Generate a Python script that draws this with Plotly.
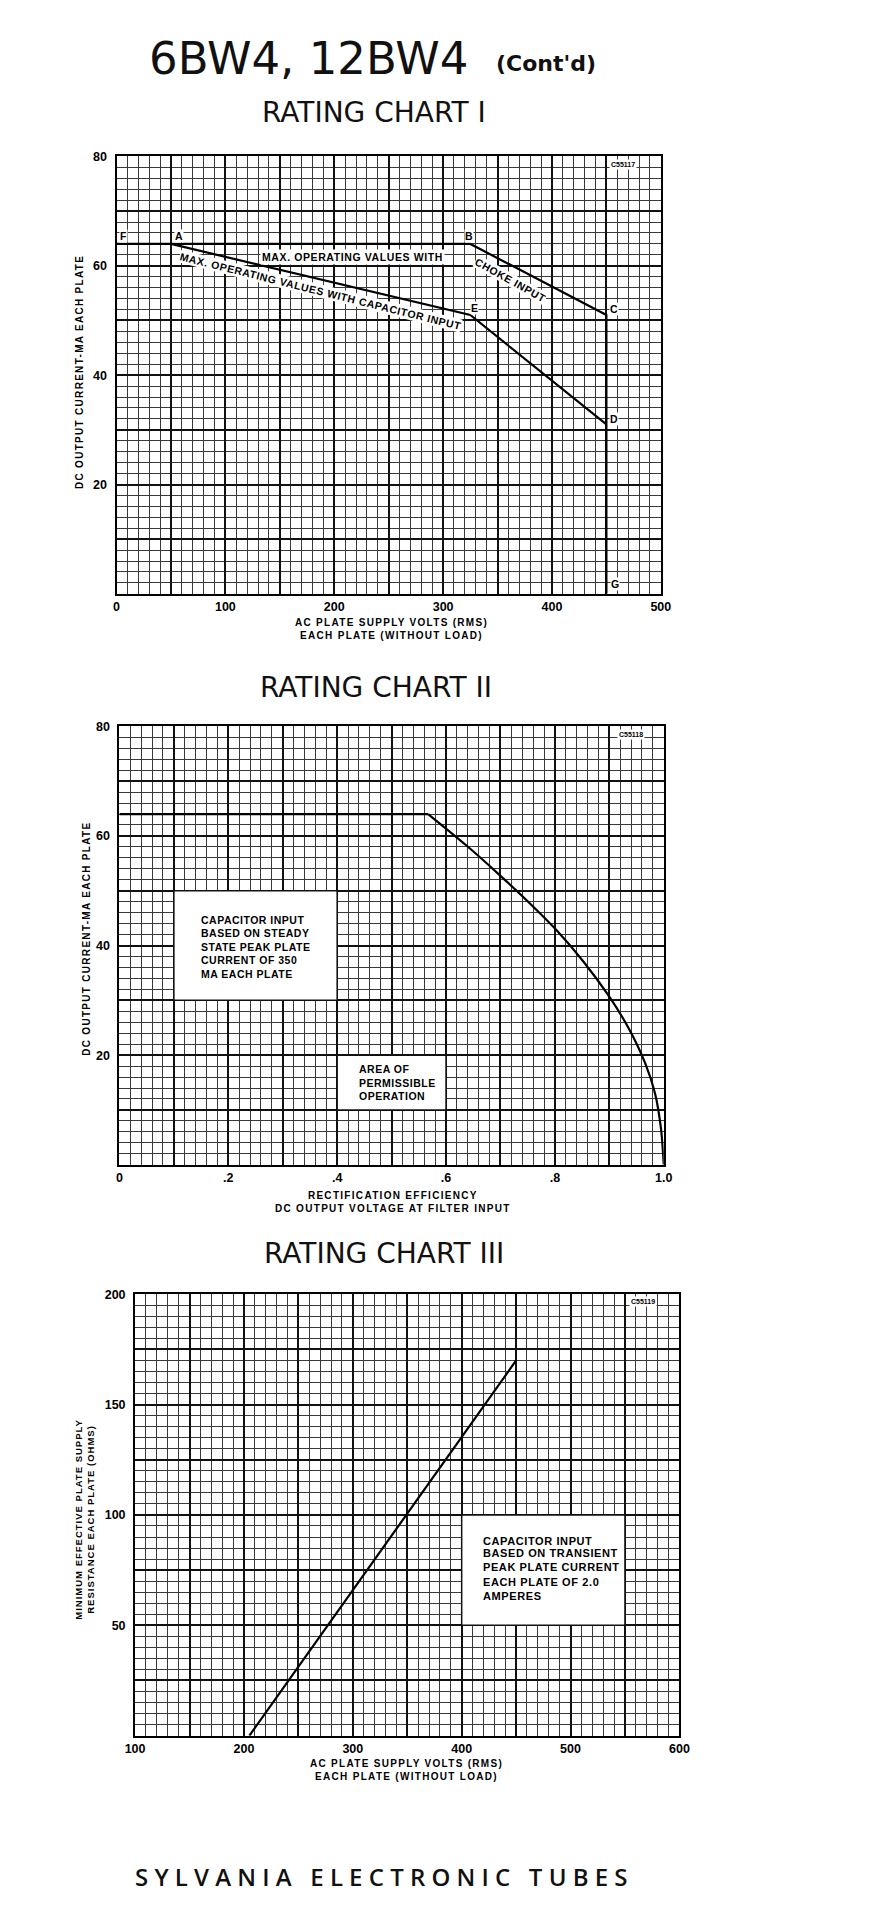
import plotly.graph_objects as go

W, H = 878, 1913

# ---------------- data ----------------
# Rating chart I  (AC plate supply volts vs DC output current, mA)
choke_volts = [0, 50, 325, 450, 450]          # F - A - B - C - G
choke_ma = [64, 64, 64, 51, 0]
cap_volts = [50, 325, 450]                     # A - E - D
cap_ma = [64, 51, 31]
point_names = ["F", "A", "B", "C", "D", "E", "G"]
point_volts = [0, 50, 325, 450, 450, 325, 450]
point_ma = [64, 64, 64, 51, 31, 51, 0]

c1_xticks = [0, 50, 100, 150, 200, 250, 300, 350, 400, 450, 500]
c1_xlabels = ["0", "", "100", "", "200", "", "300", "", "400", "", "500"]
c1_yticks = [0, 10, 20, 30, 40, 50, 60, 70, 80]
c1_ylabels = ["", "", "20", "", "40", "", "60", "", "80"]

# Rating chart II  (rectification efficiency vs DC output current, mA)
eff_flat = [0, 0.567]
ma_flat = [64, 64]
eff_curve = [0.567, 0.637, 0.697, 0.756, 0.804, 0.853, 0.899, 0.935, 0.966, 0.984, 0.995, 1.0]
ma_curve = [64, 58.3, 53.0, 47.5, 42.7, 37.0, 30.8, 25.0, 18.5, 13.0, 6.5, 0]

c2_xticks = [0, 0.1, 0.2, 0.3, 0.4, 0.5, 0.6, 0.7, 0.8, 0.9, 1.0]
c2_xlabels = ["0", "", ".2", "", ".4", "", ".6", "", ".8", "", "1.0"]
c2_yticks = c1_yticks
c2_ylabels = c1_ylabels

# Rating chart III  (AC plate supply volts vs min. plate supply resistance, ohms)
supply_volts = [205, 450]
min_ohms = [0, 170]

c3_xticks = [100, 150, 200, 250, 300, 350, 400, 450, 500, 550, 600]
c3_xlabels = ["100", "", "200", "", "300", "", "400", "", "500", "", "600"]
c3_yticks = [0, 25, 50, 75, 100, 125, 150, 175, 200]
c3_ylabels = ["", "", "50", "", "100", "", "150", "", "200"]

FONT = "Liberation Sans, Arial, sans-serif"
HEAD = "DejaVu Sans, sans-serif"


def px(x):
    return x / W


def py(y):
    return 1 - y / H


def grid_axis(left, right, rng, tickvals, ticktext, minor_step, anchor, standoff):
    return dict(
        domain=[left, right], range=rng, anchor=anchor,
        tickmode="array", tickvals=tickvals, ticktext=ticktext,
        showgrid=True, gridcolor="#111111", gridwidth=2,
        minor=dict(tickmode="linear", tick0=rng[0], dtick=minor_step,
                   showgrid=True, gridcolor="#3a3a3a", gridwidth=1),
        showline=True, mirror=True, linecolor="#000000", linewidth=2,
        zeroline=False, ticks="", ticklen=0, ticklabelstandoff=standoff,
        tickfont=dict(family=FONT, size=12.5, color="#000", weight="bold"),
        fixedrange=True,
    )


fig = go.Figure()
line_style = dict(color="#000000", width=2.2)

fig.add_trace(go.Scatter(x=choke_volts, y=choke_ma, mode="lines", line=line_style,
                         xaxis="x", yaxis="y", hoverinfo="skip"))
fig.add_trace(go.Scatter(x=cap_volts, y=cap_ma, mode="lines", line=line_style,
                         xaxis="x", yaxis="y", hoverinfo="skip"))
fig.add_trace(go.Scatter(x=eff_flat, y=ma_flat, mode="lines", line=line_style,
                         xaxis="x2", yaxis="y2", hoverinfo="skip"))
fig.add_trace(go.Scatter(x=eff_curve, y=ma_curve, mode="lines",
                         line=dict(color="#000000", width=2.2, shape="spline", smoothing=0.8),
                         xaxis="x2", yaxis="y2", hoverinfo="skip"))
fig.add_trace(go.Scatter(x=supply_volts, y=min_ohms, mode="lines", line=line_style,
                         xaxis="x3", yaxis="y3", hoverinfo="skip"))

fig.update_layout(
    width=W, height=H, margin=dict(l=0, r=0, t=0, b=0),
    paper_bgcolor="white", plot_bgcolor="white", showlegend=False,
    xaxis=grid_axis(px(109), px(666), [0, 500], c1_xticks, c1_xlabels, 10, "y", 0),
    yaxis=grid_axis(py(589), py(150), [0, 80], c1_yticks, c1_ylabels, 2, "x", 5),
    xaxis2=grid_axis(px(112), px(669), [0, 1.0], c2_xticks, c2_xlabels, 0.02, "y2", 0),
    yaxis2=grid_axis(py(1162), py(722), [0, 80], c2_yticks, c2_ylabels, 2, "x2", 5),
    xaxis3=grid_axis(px(128), px(685), [100, 600], c3_xticks, c3_xlabels, 10, "y3", 0),
    yaxis3=grid_axis(py(1735), py(1292), [0, 200], c3_yticks, c3_ylabels, 5, "x3", 5),
)

# white text panels in charts II and III
box = dict(type="rect", fillcolor="white", line=dict(color="#111", width=1.5), layer="above")
fig.add_shape(xref="x2", yref="y2", x0=0.1, x1=0.4, y0=30, y1=50, **box)
fig.add_shape(xref="x2", yref="y2", x0=0.4, x1=0.6, y0=10, y1=20, **box)
fig.add_shape(xref="x3", yref="y3", x0=400, x1=550, y0=50, y1=100, **box)


def note(text, x, y, size=10, xref="paper", yref="paper", **kw):
    opts = dict(x=x, y=y, xref=xref, yref=yref, text=text, showarrow=False,
                xanchor="center", yanchor="middle",
                font=dict(family=FONT, size=size, color="#000", weight="bold"))
    opts.update(kw)
    fig.add_annotation(**opts)


def spaced(text, sp):
    return '<span style="letter-spacing:%spx">%s</span>' % (sp, text)


# headings
note("6BW4, 12BW4", px(140), py(52), xanchor="left",
     font=dict(family=HEAD, size=45, color="#111"))
note("(Cont'd)", px(495), py(57), xanchor="left",
     font=dict(family=HEAD, size=22, color="#111", weight="bold"))
for title, cx, cy in [("RATING CHART I", 372, 106), ("RATING CHART II", 375, 683),
                      ("RATING CHART III", 383, 1251)]:
    note(title, px(cx), py(cy), font=dict(family=HEAD, size=28, color="#111"))
note(spaced("SYLVANIA ELECTRONIC TUBES", 6.2), px(383), py(1876),
     font=dict(family="Open Sans, DejaVu Sans, sans-serif", size=24, color="#111", weight=600))

# axis titles
ytitle = spaced("DC OUTPUT CURRENT-MA EACH PLATE", 1.3)
note(ytitle, px(71), py(366), size=10, textangle=-90)
note(ytitle, px(78), py(935), size=10, textangle=-90)
note(spaced("MINIMUM EFFECTIVE PLATE SUPPLY", 1) + "<br>" + spaced("RESISTANCE EACH PLATE (OHMS)", 1),
     px(76), py(1518), size=9.5, textangle=-90)
volts_title = spaced("AC PLATE SUPPLY VOLTS (RMS)", 1.3) + "<br>" + spaced("EACH PLATE (WITHOUT LOAD)", 1.3)
note(volts_title, px(390), py(624), size=10)
note(spaced("RECTIFICATION EFFICIENCY", 1.3) + "<br>" + spaced("DC OUTPUT VOLTAGE AT FILTER INPUT", 1.3),
     px(392), py(1199), size=10)
note(volts_title, px(406), py(1769), size=10)

# drawing numbers
note("C55117", 465, 78.6, size=7, xref="x", yref="y", bgcolor="white")
note("C55118", 0.94, 78.6, size=7, xref="x2", yref="y2", bgcolor="white")
note("C55119", 567, 196.5, size=7, xref="x3", yref="y3", bgcolor="white")

# chart I point letters
shifts = {"F": (7, 8), "A": (8, 8), "B": (-1, 8), "C": (8, 6), "D": (8, 5), "E": (4, 7), "G": (9, 10)}
for name, v, ma in zip(point_names, point_volts, point_ma):
    dx, dy = shifts[name]
    note(name, v, ma, size=10.5, xref="x", yref="y", xshift=dx, yshift=dy,
         bgcolor="white", borderpad=0)

# chart I curve captions
note(spaced("MAX. OPERATING VALUES WITH", 0.6), 217, 61.6, size=10.5, xref="x", yref="y",
     bgcolor="white", borderpad=1)
note(spaced("CHOKE INPUT", 0.6), 362, 57.4, size=10.5, xref="x", yref="y",
     textangle=29, bgcolor="white", borderpad=0)
note(spaced("MAX. OPERATING VALUES WITH CAPACITOR INPUT", 0.6), 187, 55.4, size=10.5,
     xref="x", yref="y", textangle=14, bgcolor="white", borderpad=0)

# chart II panel texts
note(spaced("CAPACITOR INPUT", 0.5), 0.147, 44.6, size=10.5, xref="x2", yref="y2", xanchor="left")
note(spaced("BASED ON STEADY", 0.5) + "<br>" + spaced("STATE PEAK PLATE", 0.5) + "<br>"
     + spaced("CURRENT OF 350", 0.5) + "<br>" + spaced("MA EACH PLATE", 0.5),
     0.147, 38.5, size=10.5, xref="x2", yref="y2", xanchor="left", align="left")
note(spaced("AREA OF", 0.5) + "<br>" + spaced("PERMISSIBLE", 0.5) + "<br>" + spaced("OPERATION", 0.5),
     0.436, 15, size=10.5, xref="x2", yref="y2", xanchor="left", align="left")

# chart III panel texts
note(spaced("CAPACITOR INPUT", 0.6), 418, 88, size=11, xref="x3", yref="y3", xanchor="left")
note(spaced("BASED ON TRANSIENT", 0.6) + "<br>" + spaced("PEAK PLATE CURRENT", 0.6) + "<br>"
     + spaced("EACH PLATE OF 2.0", 0.6) + "<br>" + spaced("AMPERES", 0.6),
     418, 73, size=11, xref="x3", yref="y3", xanchor="left", align="left")

fig.write_html("out.html", config={"displayModeBar": False},
               post_script="document.body.style.margin='0';")
